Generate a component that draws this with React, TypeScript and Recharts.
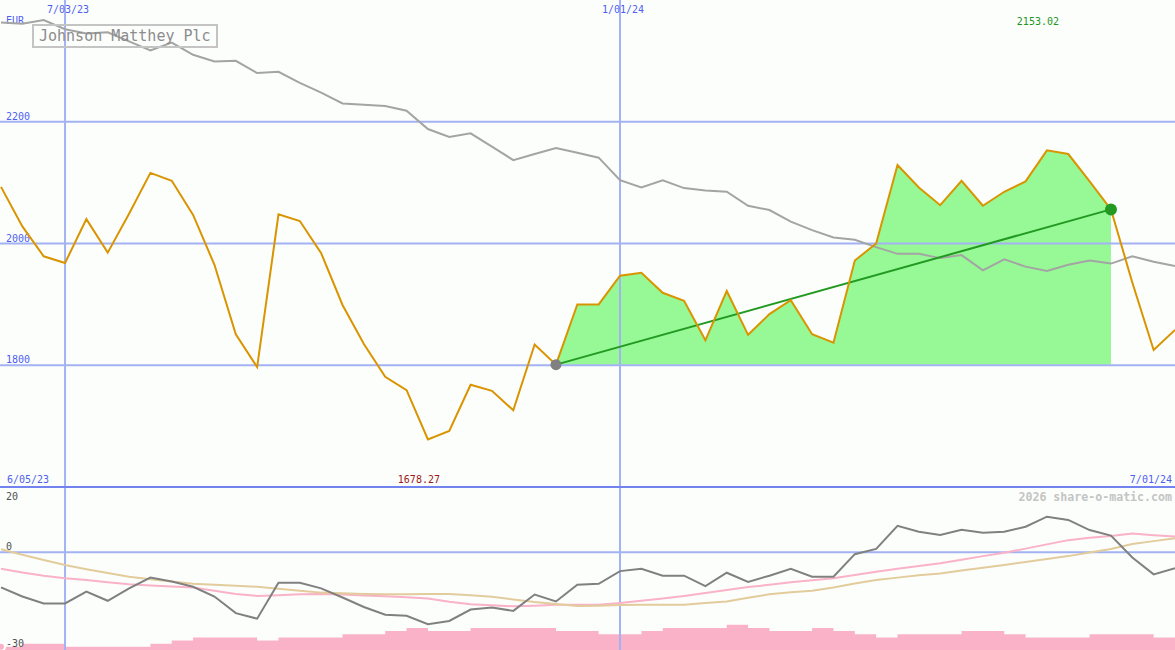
import React from 'react';
import { ComposedChart, Line, Area, XAxis, YAxis, ReferenceLine, ReferenceDot } from 'recharts';

// ---------- data (weekly, Mondays from 12 Jun 2023 to 1 Jul 2024) ----------
const WEEK_COUNT = 56;
const FIRST_WEEK = Date.UTC(2023, 5, 12);
const WEEKS: string[] = Array.from({ length: WEEK_COUNT }, (_, k) => {
  const d = new Date(FIRST_WEEK + k * 7 * 86400000);
  return `${d.getUTCMonth() + 1}/${String(d.getUTCDate()).padStart(2, '0')}/${String(d.getUTCFullYear()).slice(2)}`;
});

const PRICE = [
  2093, 2028, 1979, 1968, 2040, 1985, 2049, 2116, 2103, 2047,
  1965, 1851, 1797, 2048, 2037, 1984, 1899, 1835, 1781, 1759,
  1678.27, 1692, 1768, 1758, 1726, 1834, 1801, 1900, 1900, 1947,
  1952, 1919, 1906, 1841, 1922, 1850, 1884, 1907, 1851, 1837,
  1972, 2000, 2129, 2092, 2063, 2103, 2062, 2085, 2102, 2153.02,
  2147, 2102, 2056, 1936, 1825, 1858,
];

const AVERAGE = [
  2363, 2361, 2367, 2352, 2345, 2347, 2332, 2317, 2330, 2310,
  2299, 2300, 2280, 2282, 2264, 2248, 2230, 2228, 2226, 2218,
  2188, 2175, 2181, 2159, 2137, 2147, 2157, 2149, 2141, 2104,
  2092, 2104, 2091, 2087, 2085, 2062, 2055, 2036, 2022, 2010,
  2006, 1994, 1983, 1983, 1976, 1981, 1956, 1974, 1962, 1955,
  1965, 1972, 1967, 1979, 1970, 1963,
];

const MOMENTUM = [
  -10.8, -13.6, -15.7, -15.7, -12.1, -14.9, -11.1, -7.8, -9.0, -10.6,
  -13.6, -18.7, -20.4, -9.4, -9.4, -11.1, -13.9, -16.8, -19.2, -19.5,
  -22.1, -21.1, -17.6, -17.0, -18.0, -13.0, -15.1, -10.0, -9.7, -5.8,
  -5.1, -7.2, -7.2, -10.4, -6.3, -9.1, -7.2, -5.1, -7.5, -7.5,
  -0.6, 1.0, 8.1, 6.3, 5.3, 6.9, 6.0, 6.3, 7.8, 10.9,
  9.9, 6.8, 5.1, -1.6, -6.8, -4.9,
];

const MA_FAST = [
  -5.1, -6.2, -7.2, -8.0, -8.5, -9.2, -9.8, -10.2, -10.5, -10.8,
  -11.8, -12.8, -13.4, -13.2, -12.9, -12.8, -13.0, -13.3, -13.5, -13.8,
  -14.2, -15.2, -16.0, -16.3, -16.6, -16.4, -16.1, -16.1, -16.1, -15.6,
  -14.9, -14.2, -13.4, -12.5, -11.6, -10.7, -10.0, -9.2, -8.6, -8.0,
  -7.0, -6.0, -5.1, -4.2, -3.4, -2.3, -1.2, -0.2, 1.1, 2.4,
  3.7, 4.4, 5.0, 5.7, 5.2, 4.8,
];

const MA_SLOW = [
  0.9, -0.8, -2.4, -3.9, -5.2, -6.4, -7.5, -8.3, -9.0, -9.7,
  -10.0, -10.3, -10.6, -11.2, -11.8, -12.4, -12.6, -12.8, -12.9, -12.9,
  -12.8, -12.8, -13.2, -13.7, -14.5, -15.3, -15.9, -16.5, -16.4, -16.2,
  -16.1, -16.1, -16.1, -15.6, -15.1, -14.0, -12.9, -12.3, -11.8, -10.8,
  -9.6, -8.5, -7.8, -7.1, -6.5, -5.6, -4.8, -3.9, -3.0, -2.1,
  -1.2, -0.1, 1.0, 2.5, 3.4, 4.3,
];

const VOLUME = [
  1, 2, 2, 1, 1, 1, 1, 2, 3, 4,
  4, 4, 3, 4, 4, 4, 5, 5, 6, 7,
  6, 6, 7, 7, 7, 7, 6, 6, 5, 5,
  6, 7, 7, 7, 8, 7, 6, 6, 7, 6,
  5, 4, 5, 5, 5, 6, 6, 5, 4, 4,
  4, 5, 5, 5, 4, 4,
];

const TREND_START = 26;
const TREND_END = 52;

const DATE_TICK_INDEX = [3, 29];
const DATE_TICK_LABELS = ['7/03/23', '1/01/24'];
const RANGE_LABELS = ['6/05/23', '7/01/24'];
const PRICE_TICKS = [2200, 2000, 1800];
const OSC_TICKS = [20, 0, -30];
const CURRENCY = 'EUR';
const TITLE = 'Johnson Matthey Plc';
const CREDIT = '2026 share-o-matic.com';

// ---------- layout / scales ----------
const W = 1175;
const H = 650;
const PRICE_PANEL_H = 487;
const PRICE_AX_MIN = 1600;
const PRICE_AX_MAX = 2400;
const OSC_MIN = -30;
const OSC_MAX = 20;
const VOL_AX_MAX = 206;
const X_DOMAIN = [-0.047, WEEK_COUNT - 1];
const PRICE_DOMAIN = [PRICE_AX_MAX - ((PRICE_AX_MAX - PRICE_AX_MIN) * H) / PRICE_PANEL_H, PRICE_AX_MAX];
const OSC_DOMAIN = [OSC_MIN, OSC_MIN + ((OSC_MAX - OSC_MIN) * H) / (H - PRICE_PANEL_H)];

const MIN_IDX = PRICE.indexOf(Math.min(...PRICE));
const MAX_IDX = PRICE.indexOf(Math.max(...PRICE));

const DATA = WEEKS.map((week, i) => ({
  i,
  week,
  price: PRICE[i],
  avg: AVERAGE[i],
  gain: i >= TREND_START && i <= TREND_END ? PRICE[i] : null,
  trend: i === TREND_START || i === TREND_END ? PRICE[i] : null,
  mom: MOMENTUM[i],
  maFast: MA_FAST[i],
  maSlow: MA_SLOW[i],
  vol: VOLUME[i],
}));

// ---------- styles ----------
const FONT = '"DejaVu Sans Mono", "Liberation Mono", monospace';
const BG = '#fcfefc';
const GRID = '#a3b2f2';
const SEP = '#7282ee';
const AXIS_TEXT = '#4f5fef';
const OSC_TEXT = '#505050';
const ORANGE = '#d99400';
const GREY_LINE = '#a4a4a4';
const MOM_LINE = '#808080';
const PINK = '#f9b2c8';
const TAN = '#e2cc9c';
const FILL_GREEN = '#96f996';
const TREND_GREEN = '#229a22';

const T = (props: any) => (
  <text fontFamily={FONT} fontSize={10} {...props} />
);

const leftLabel = (s: string, dy: number, color: string) => (p: any) => (
  <T x={p.viewBox.x + 6} y={p.viewBox.y + dy} fill={color}>{s}</T>
);

const topDate = (s: string) => (p: any) => (
  <T x={p.viewBox.x + 3} y={13} fill={AXIS_TEXT} textAnchor="middle">{s}</T>
);

const separatorLabels = (p: any) => {
  const { x, y, width } = p.viewBox;
  return (
    <g>
      <T x={x + 7} y={y - 4} fill={AXIS_TEXT}>{RANGE_LABELS[0]}</T>
      <T x={x + width - 3} y={y - 4} fill={AXIS_TEXT} textAnchor="end">{RANGE_LABELS[1]}</T>
      <T x={x + 6} y={y + 13} fill={OSC_TEXT}>{String(OSC_TICKS[0])}</T>
      <T x={x + width - 3} y={y + 13.5} fill="#c4c4c4" fontSize={11.6} fontWeight="bold" textAnchor="end">{CREDIT}</T>
    </g>
  );
};

const extremeLabel = (s: string, dy: number, color: string) => (p: any) => (
  <T x={p.viewBox.x + p.viewBox.width / 2 - 9} y={p.viewBox.y + p.viewBox.height / 2 + dy} fill={color} textAnchor="middle">{s}</T>
);

export default function App() {
  return (
    <div style={{ position: 'absolute', left: 0, top: 0, width: W, height: H, background: BG, overflow: 'hidden' }}>
      <ComposedChart width={W} height={H} data={DATA} margin={{ top: 0, right: 0, bottom: 0, left: 0 }}>
        <XAxis dataKey="i" type="number" domain={X_DOMAIN} hide allowDataOverflow />
        <YAxis yAxisId="price" type="number" domain={PRICE_DOMAIN} hide allowDataOverflow />
        <YAxis yAxisId="osc" type="number" domain={OSC_DOMAIN} hide allowDataOverflow />
        <YAxis yAxisId="vol" type="number" domain={[0, VOL_AX_MAX]} hide allowDataOverflow />

        {DATE_TICK_INDEX.map((ix, k) => (
          <ReferenceLine key={'d' + ix} yAxisId="price" x={ix} stroke={GRID} strokeWidth={2} label={topDate(DATE_TICK_LABELS[k])} />
        ))}
        {PRICE_TICKS.map((p) => (
          <ReferenceLine key={'p' + p} yAxisId="price" y={p} stroke={GRID} strokeWidth={2} label={leftLabel(String(p), -2, AXIS_TEXT)} />
        ))}
        <ReferenceLine yAxisId="osc" y={OSC_TICKS[1]} stroke={GRID} strokeWidth={2} label={leftLabel(String(OSC_TICKS[1]), -2.5, OSC_TEXT)} />
        <ReferenceLine yAxisId="price" y={PRICE_AX_MAX} stroke="none" label={leftLabel(CURRENCY, 24, AXIS_TEXT)} />

        <Area yAxisId="vol" dataKey="vol" type="stepAfter" stroke="none" fill={PINK} fillOpacity={1} isAnimationActive={false} />
        <Line yAxisId="osc" dataKey="maFast" type="linear" stroke={PINK} strokeWidth={2} dot={false} activeDot={false} isAnimationActive={false} />
        <Line yAxisId="osc" dataKey="maSlow" type="linear" stroke={TAN} strokeWidth={2} dot={false} activeDot={false} isAnimationActive={false} />
        <Line yAxisId="osc" dataKey="mom" type="linear" stroke={MOM_LINE} strokeWidth={2} dot={false} activeDot={false} isAnimationActive={false} />
        <ReferenceLine yAxisId="osc" y={OSC_MAX} stroke={SEP} strokeWidth={2} label={separatorLabels} />
        <ReferenceLine yAxisId="osc" y={OSC_MIN} stroke="none" label={leftLabel(String(OSC_TICKS[2]), -3.5, OSC_TEXT)} />

        <Area yAxisId="price" dataKey="gain" type="linear" baseValue={PRICE[TREND_START]} stroke="none" fill={FILL_GREEN} fillOpacity={1} isAnimationActive={false} />
        <Line yAxisId="price" dataKey="avg" type="linear" stroke={GREY_LINE} strokeWidth={2} dot={false} activeDot={false} isAnimationActive={false} />
        <Line yAxisId="price" dataKey="trend" type="linear" connectNulls stroke={TREND_GREEN} strokeWidth={2} dot={false} activeDot={false} isAnimationActive={false} />
        <ReferenceDot yAxisId="price" x={TREND_START} y={PRICE[TREND_START]} r={5.5} fill="#808080" stroke="none" />
        <Line yAxisId="price" dataKey="price" type="linear" stroke={ORANGE} strokeWidth={2} dot={false} activeDot={false} isAnimationActive={false} />
        <ReferenceDot yAxisId="price" x={TREND_END} y={PRICE[TREND_END]} r={6} fill={TREND_GREEN} stroke="none" />

        <ReferenceDot yAxisId="price" x={MAX_IDX} y={PRICE_AX_MAX} r={0} stroke="none" fill="none"
          label={extremeLabel(PRICE[MAX_IDX].toFixed(2), 25, '#1e961e')} />
        <ReferenceDot yAxisId="price" x={MIN_IDX} y={PRICE_AX_MIN} r={0} stroke="none" fill="none"
          label={extremeLabel(PRICE[MIN_IDX].toFixed(2), -4, '#9a1a1a')} />
      </ComposedChart>
      <div
        style={{
          position: 'absolute', left: 32, top: 24, width: 186, height: 24, boxSizing: 'border-box',
          border: '2px solid #c4c4c4', fontFamily: FONT, fontSize: 15, lineHeight: '20px',
          color: '#8c8c8c', paddingLeft: 5, whiteSpace: 'nowrap',
        }}
      >
        {TITLE}
      </div>
    </div>
  );
}
